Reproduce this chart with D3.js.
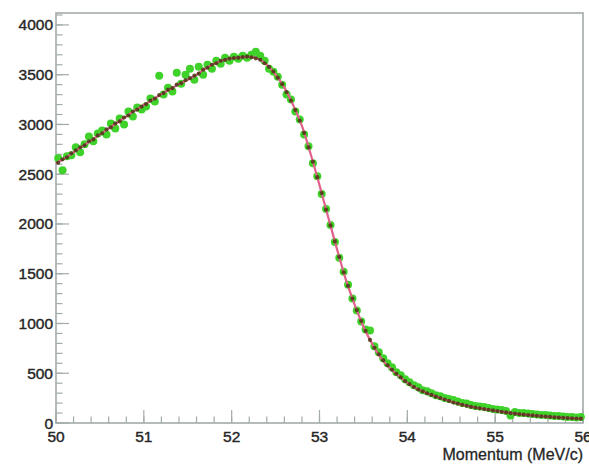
<!DOCTYPE html>
<html>
<head>
<meta charset="utf-8">
<script src="https://cdn.jsdelivr.net/npm/d3@7"></script>
<style>
  html, body { margin: 0; padding: 0; background: #ffffff; }
  svg { display: block; }
</style>
</head>
<body>
<svg id="chart" width="589" height="466"></svg>
<script>
// ---- data ----
const xDomain = [50, 56];
const yDomain = [0, 4120];
const binStart = 50.0;
const binWidth = 0.05;
const xTickValues = [50, 51, 52, 53, 54, 55, 56];
const yTickValues = [0, 500, 1000, 1500, 2000, 2500, 3000, 3500, 4000];
const xTitle = "Momentum (MeV/c)";

// measured spectrum (green markers), one per 0.05 MeV/c bin
const dataCounts = [
  2660, 2540, 2680, 2690, 2770, 2720, 2800, 2880, 2830, 2910,
  2940, 2900, 3010, 2960, 3060, 3000, 3130, 3080, 3170, 3150,
  3180, 3260, 3230, 3490, 3300, 3370, 3330, 3520, 3410, 3500,
  3560, 3450, 3580, 3500, 3600, 3560, 3640, 3610, 3670, 3640,
  3680, 3660, 3690, 3670, 3700, 3730, 3690, 3640, 3560, 3530,
  3480, 3400, 3300, 3250, 3130, 3050, 2900, 2780, 2610, 2480,
  2300, 2150, 1990, 1820, 1660, 1520, 1390, 1250, 1130, 1020,
  940, 930, 770, 710, 650, 600, 560, 510, 480, 440,
  410, 380, 360, 330, 320, 300, 280, 270, 250, 240,
  230, 215, 200, 195, 180, 170, 165, 160, 150, 140,
  135, 130, 120, 75, 110, 100, 100, 95, 90, 85,
  80, 80, 75, 70, 70, 65, 60, 60, 55, 60
];

// simulated spectrum (dark markers), one per 0.05 MeV/c bin
const simCounts = [
  2615, 2650, 2670, 2710, 2740, 2770, 2790, 2830, 2850, 2890,
  2910, 2950, 2970, 3010, 3030, 3070, 3090, 3130, 3150, 3180,
  3205, 3240, 3260, 3295, 3315, 3350, 3365, 3400, 3415, 3445,
  3465, 3490, 3510, 3550, 3570, 3600, 3615, 3640, 3648, 3662,
  3668, 3670, 3678, 3682, 3675, 3665, 3650, 3615, 3578, 3532,
  3470, 3405, 3325, 3240, 3145, 3040, 2915, 2770, 2625, 2470,
  2310, 2145, 1985, 1825, 1668, 1515, 1378, 1250, 1135, 1025,
  925, 835, 755, 690, 630, 580, 535, 495, 458, 420,
  390, 362, 336, 318, 298, 282, 265, 250, 236, 222,
  205, 195, 183, 173, 163, 155, 147, 140, 133, 126,
  120, 112, 106, 100, 94, 89, 84, 80, 76, 72,
  68, 65, 61, 58, 55, 52, 50, 47, 45, 43
];

// fitted curve, sampled every 0.1 MeV/c from 50.0 to 56.0
const fitStep = 0.1;
const fitCounts = [
  2610, 2660, 2720, 2780, 2840, 2900, 2960, 3020, 3080, 3140,
  3195, 3250, 3305, 3355, 3405, 3450, 3500, 3560, 3610, 3645,
  3665, 3675, 3680, 3660, 3600, 3500, 3370, 3195, 2985, 2700,
  2390, 2065, 1745, 1440, 1190, 970, 795, 655, 555, 475,
  405, 350, 310, 275, 245, 215, 190, 170, 152, 137,
  123, 110, 98, 88, 79, 71, 64, 58, 52, 47,
  43
];

// ---- layout ----
const svg = d3.select("#chart");
const frame = { left: 56, right: 583, top: 13, bottom: 423 };

const x = d3.scaleLinear().domain(xDomain).range([frame.left, frame.right]);
const y = d3.scaleLinear().domain(yDomain).range([frame.bottom, frame.top]);

const axisColor = "#a3abab";
const textColor = "#262626";
const font = "'Liberation Sans', Arial, sans-serif";

// frame
svg.append("rect")
  .attr("x", frame.left).attr("y", frame.top)
  .attr("width", frame.right - frame.left).attr("height", frame.bottom - frame.top)
  .attr("fill", "#ffffff").attr("stroke", axisColor).attr("stroke-width", 1.6);

// minor ticks
const xMinor = d3.range(0, 31).map(i => xDomain[0] + i * 0.2);
const yMinor = d3.range(0, 42).map(i => i * 100);

const tickG = svg.append("g").attr("stroke", axisColor).attr("stroke-width", 1.2);
tickG.selectAll(".xmin").data(xMinor).join("line")
  .attr("x1", d => x(d)).attr("x2", d => x(d))
  .attr("y1", frame.bottom).attr("y2", frame.bottom - 6.5);
tickG.selectAll(".xmaj").data(xTickValues).join("line")
  .attr("x1", d => x(d)).attr("x2", d => x(d))
  .attr("y1", frame.bottom).attr("y2", frame.bottom - 13);
tickG.selectAll(".ymin").data(yMinor.filter(v => v <= yDomain[1])).join("line")
  .attr("x1", frame.left).attr("x2", frame.left + 6.5)
  .attr("y1", d => y(d)).attr("y2", d => y(d));
tickG.selectAll(".ymaj").data(yTickValues).join("line")
  .attr("x1", frame.left).attr("x2", frame.left + 13)
  .attr("y1", d => y(d)).attr("y2", d => y(d));

// tick labels
svg.append("g").selectAll("text").data(yTickValues).join("text")
  .attr("x", frame.left - 3).attr("y", d => y(d) + (d === 0 ? 1 : 0))
  .attr("dy", "0.35em")
  .attr("text-anchor", "end")
  .attr("font-family", font).attr("font-size", 15.5)
  .attr("fill", textColor).attr("stroke", textColor).attr("stroke-width", 0.4)
  .text(d => d);

svg.append("g").selectAll("text").data(xTickValues).join("text")
  .attr("x", d => x(d)).attr("y", frame.bottom + 19)
  .attr("text-anchor", "middle")
  .attr("font-family", font).attr("font-size", 15.5)
  .attr("fill", textColor).attr("stroke", textColor).attr("stroke-width", 0.4)
  .text(d => d);

svg.append("text")
  .attr("x", frame.right).attr("y", frame.bottom + 37)
  .attr("text-anchor", "end")
  .attr("font-family", font).attr("font-size", 16)
  .attr("fill", textColor).attr("stroke", textColor).attr("stroke-width", 0.3)
  .text(xTitle);

// ---- marks ----
const binCenter = i => binStart + binWidth * (i + 0.5);

const plot = svg.append("g");

plot.selectAll(".data").data(dataCounts).join("circle")
  .attr("cx", (d, i) => x(binCenter(i))).attr("cy", d => y(d))
  .attr("r", 4).attr("fill", "#3fd22a");

const line = d3.line()
  .x((d, i) => x(binStart + fitStep * i))
  .y(d => y(d))
  .curve(d3.curveMonotoneX);

plot.append("path").datum(fitCounts)
  .attr("d", line).attr("fill", "none")
  .attr("stroke", "#e0608a").attr("stroke-width", 2.2);

plot.selectAll(".sim").data(simCounts).join("circle")
  .attr("cx", (d, i) => x(binCenter(i))).attr("cy", d => y(d))
  .attr("r", 2.1).attr("fill", "#4a3414").attr("fill-opacity", 0.85);
</script>
</body>
</html>
